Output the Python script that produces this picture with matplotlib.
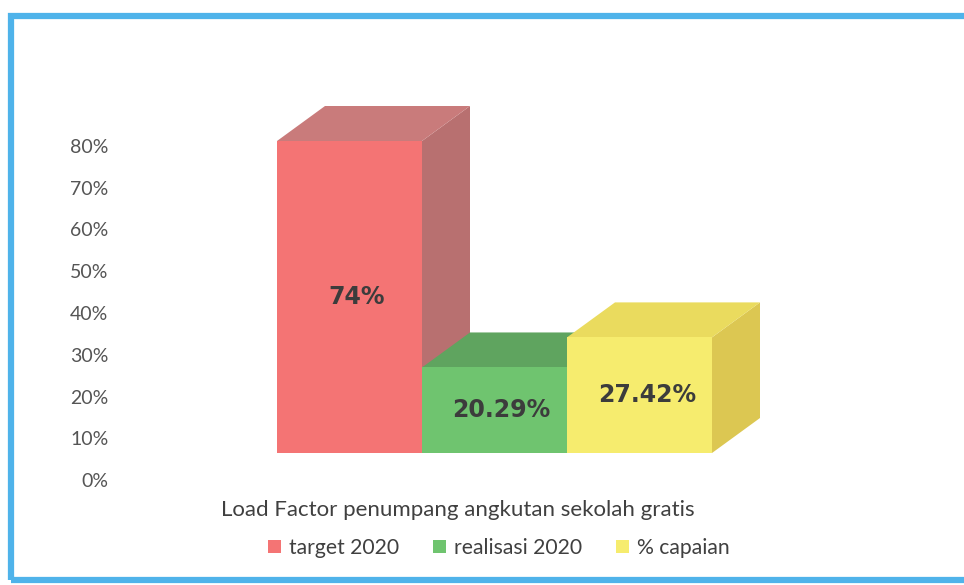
import matplotlib
matplotlib.use("Agg")
import matplotlib.pyplot as plt
from matplotlib.patches import Polygon, Rectangle, Patch

# ----- data -----
categories = ["target 2020", "realisasi 2020", "% capaian"]
values = [0.74, 0.2029, 0.2742]
value_labels = ["74%", "20.29%", "27.42%"]
title = "Load Factor penumpang angkutan sekolah gratis"
ytick_vals = [0.0, 0.1, 0.2, 0.3, 0.4, 0.5, 0.6, 0.7, 0.8]

# front / top / side shades per bar
front = ["#f47474", "#6fc46f", "#f6ec6e"]
top = ["#c97b7b", "#5fa45f", "#eadb5e"]
side = ["#b87070", "#579a57", "#dcc752"]

W, H = 964, 585
plt.rcParams["font.family"] = ["Lato", "DejaVu Sans"]
fig = plt.figure(figsize=(W / 100, H / 100), dpi=100)

# bar axes: y=0 at px 453, 0.74 at px 141 -> 421.6 px per unit
ppu_y = 312 / 0.74
ppu_x = 145
x0, x1 = -1.0, 3.0
y0, y1 = 0.0, 1.0
left_px = 277 - (-0.5 - x0) * ppu_x
bot_px = 453
ax = fig.add_axes([left_px / W, (H - bot_px) / H,
                   (x1 - x0) * ppu_x / W, (y1 - y0) * ppu_y / H])
ax.set_xlim(x0, x1)
ax.set_ylim(y0, y1)
ax.axis("off")

# 3D depth in data units (48 px right, 35 px up)
DX = 48 / ppu_x
DY = 35 / ppu_y
bw = 1.0
for i, v in enumerate(values):
    l, r = i - bw / 2, i + bw / 2
    # right side face
    ax.add_patch(Polygon([(r, 0), (r + DX, DY), (r + DX, v + DY), (r, v)],
                         closed=True, facecolor=side[i], edgecolor="none"))
    # top face
    ax.add_patch(Polygon([(l, v), (r, v), (r + DX, v + DY), (l + DX, v + DY)],
                         closed=True, facecolor=top[i], edgecolor="none"))
    # front face
    ax.bar(i, v, width=bw, color=front[i], edgecolor="none")
    ax.text(i + 0.05, v / 2, value_labels[i], ha="center", va="center",
            fontsize=17, fontweight="bold", color="#3c3c3c",
            family=["DejaVu Sans"])

# y tick axis (back wall scale): 0% at px 480, 80% at px 146
tax = fig.add_axes([118 / W, (H - 480) / H, 100 / W, (480 - 146) / H])
tax.set_ylim(0, 0.8)
tax.set_yticks(ytick_vals)
tax.set_yticklabels([f"{t:.0%}" for t in ytick_vals])
tax.tick_params(axis="y", length=0, pad=7, labelsize=14, labelcolor="#555555")
tax.set_xticks([])
for s in tax.spines.values():
    s.set_visible(False)
tax.patch.set_alpha(0)

fig.text(458 / W, (H - 510) / H, title, ha="center", va="center",
         fontsize=16, color="#404040")

handles = [Patch(facecolor=c, edgecolor="none", label=lab)
           for c, lab in zip(front, categories)]
fig.legend(handles=handles, loc="center", bbox_to_anchor=(499 / W, (H - 548) / H),
           ncol=3, frameon=False, fontsize=15.2, handlelength=0.6, handleheight=0.6,
           handletextpad=0.4, columnspacing=1.6, labelcolor="#404040")

# blue frame
fig.add_artist(Rectangle((11 / W, 5 / H), 1.0, (580 - 16) / H,
                         transform=fig.transFigure, fill=False,
                         edgecolor="#4fb3ea", linewidth=4.5))

fig.savefig("out.png", dpi=100)
